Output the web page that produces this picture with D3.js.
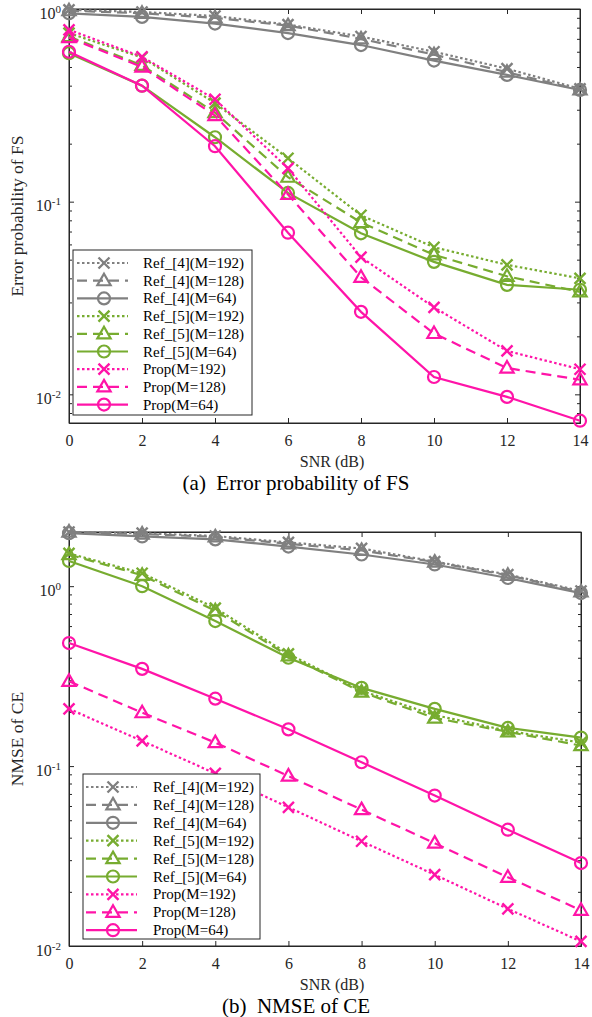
<!DOCTYPE html>
<html>
<head>
<meta charset="utf-8">
<script src="https://cdn.jsdelivr.net/npm/d3@7"></script>
<style>
  html, body { margin: 0; padding: 0; background: #fff; }
  svg { display: block; font-family: "Liberation Serif", "Times New Roman", serif; }
</style>
</head>
<body>
<svg id="chart" width="592" height="1017"></svg>
<script>
// ---------------- data ----------------
const snr = [0, 2, 4, 6, 8, 10, 12, 14];
const xTicks = [0, 2, 4, 6, 8, 10, 12, 14];
const legendLabels = ["Ref_[4](M=192)", "Ref_[4](M=128)", "Ref_[4](M=64)",
                      "Ref_[5](M=192)", "Ref_[5](M=128)", "Ref_[5](M=64)",
                      "Prop(M=192)", "Prop(M=128)", "Prop(M=64)"];

// (a) Error probability of FS
const fsRef4M192 = [0.99, 0.965, 0.92, 0.83, 0.72, 0.60, 0.49, 0.385];
const fsRef4M128 = [0.98, 0.95, 0.90, 0.82, 0.70, 0.58, 0.47, 0.38];
const fsRef4M64  = [0.95, 0.91, 0.84, 0.75, 0.65, 0.54, 0.455, 0.38];
const fsRef5M192 = [0.75, 0.56, 0.325, 0.168, 0.085, 0.058, 0.047, 0.040];
const fsRef5M128 = [0.72, 0.51, 0.29, 0.134, 0.078, 0.053, 0.041, 0.034];
const fsRef5M64  = [0.59, 0.40, 0.216, 0.111, 0.0685, 0.0487, 0.037, 0.0349];
const fsPropM192 = [0.78, 0.565, 0.34, 0.149, 0.0515, 0.0283, 0.0168, 0.0135];
const fsPropM128 = [0.71, 0.50, 0.28, 0.109, 0.0405, 0.0207, 0.0137, 0.0119];
const fsPropM64  = [0.60, 0.40, 0.194, 0.069, 0.0268, 0.0123, 0.0097, 0.0073];

// (b) NMSE of CE
const ceRef4M192 = [2.00, 1.97, 1.90, 1.75, 1.62, 1.37, 1.16, 0.94];
const ceRef4M128 = [2.00, 1.95, 1.88, 1.72, 1.58, 1.36, 1.15, 0.93];
const ceRef4M64  = [1.97, 1.89, 1.82, 1.66, 1.50, 1.32, 1.11, 0.915];
const ceRef5M192 = [1.52, 1.18, 0.755, 0.42, 0.262, 0.192, 0.157, 0.135];
const ceRef5M128 = [1.50, 1.15, 0.73, 0.41, 0.258, 0.185, 0.155, 0.130];
const ceRef5M64  = [1.38, 1.00, 0.64, 0.40, 0.272, 0.208, 0.163, 0.144];
const cePropM192 = [0.208, 0.138, 0.091, 0.059, 0.0382, 0.0249, 0.0161, 0.0106];
const cePropM128 = [0.296, 0.198, 0.135, 0.088, 0.0573, 0.0373, 0.0241, 0.0158];
const cePropM64  = [0.483, 0.347, 0.237, 0.160, 0.105, 0.0686, 0.0443, 0.0289];

// ---------------- styles ----------------
const GRAY = "#808080", GREEN = "#77AC30", MAG = "#FF14A8", AX = "#262626";
const DOT = "2.5,2.5", DASH = "10,6";
const styles = [
  {color: GRAY, dash: DOT, marker: "x"},
  {color: GRAY, dash: DASH, marker: "tri"},
  {color: GRAY, dash: null, marker: "circ"},
  {color: GREEN, dash: DOT, marker: "x"},
  {color: GREEN, dash: DASH, marker: "tri"},
  {color: GREEN, dash: null, marker: "circ"},
  {color: MAG, dash: DOT, marker: "x"},
  {color: MAG, dash: DASH, marker: "tri"},
  {color: MAG, dash: null, marker: "circ"}
];

const svg = d3.select("#chart");
svg.append("rect").attr("width", 592).attr("height", 1017).attr("fill", "#fff");

function drawMarker(g, type, cx, cy, color) {
  if (type === "circ") {
    g.append("circle").attr("cx", cx).attr("cy", cy).attr("r", 6)
      .attr("fill", "none").attr("stroke", color).attr("stroke-width", 2.2);
  } else if (type === "tri") {
    const s = 7;
    g.append("path")
      .attr("d", `M${cx},${cy - s} L${cx + s * 0.95},${cy + s * 0.65} L${cx - s * 0.95},${cy + s * 0.65} Z`)
      .attr("fill", "none").attr("stroke", color).attr("stroke-width", 2.2).attr("stroke-linejoin", "miter");
  } else {
    const s = 5.5;
    g.append("path")
      .attr("d", `M${cx - s},${cy - s} L${cx + s},${cy + s} M${cx - s},${cy + s} L${cx + s},${cy - s}`)
      .attr("fill", "none").attr("stroke", color).attr("stroke-width", 2.4);
  }
}

function supLabel(sel, v) {
  const e = Math.round(Math.log10(v));
  sel.text(null);
  sel.attr("y", 4);
  sel.append("tspan").text("10");
  sel.append("tspan").attr("dy", -6).attr("font-size", 11).text(String(e));
}

function panel(cfg) {
  const {x0, x1, y0, y1, yDomain, series, yLabel, caption, legend} = cfg;
  const x = d3.scaleLinear().domain([0, 14]).range([x0, x1]);
  const y = d3.scaleLog().domain(yDomain).range([y1, y0]);
  const g = svg.append("g");

  // box
  g.append("rect").attr("x", x0).attr("y", y0).attr("width", x1 - x0).attr("height", y1 - y0)
    .attr("fill", "none").attr("stroke", AX).attr("stroke-width", 1);

  // x axes (bottom with labels, top ticks only)
  g.append("g").attr("transform", `translate(0,${y1})`)
    .call(d3.axisBottom(x).tickValues(xTicks).tickSizeInner(-5).tickSizeOuter(0).tickPadding(12).tickFormat(d3.format("d")));
  g.append("g").attr("transform", `translate(0,${y0})`)
    .call(d3.axisTop(x).tickValues(xTicks).tickSizeInner(-5).tickSizeOuter(0).tickFormat(""));

  // y axes major + minor
  const lo = Math.floor(Math.log10(yDomain[0])), hi = Math.ceil(Math.log10(yDomain[1]));
  const major = [], minor = [];
  for (let e = lo; e <= hi; e++) {
    const b = Math.pow(10, e);
    if (b >= yDomain[0] * 0.999 && b <= yDomain[1] * 1.001) major.push(b);
    for (let m = 2; m <= 9; m++) {
      const v = m * b;
      if (v >= yDomain[0] && v <= yDomain[1] * 1.001) minor.push(v);
    }
  }
  const yl = g.append("g").attr("transform", `translate(${x0},0)`)
    .call(d3.axisLeft(y).tickValues(major).tickSizeInner(-5).tickSizeOuter(0).tickPadding(8).tickFormat(""));
  g.append("g").attr("transform", `translate(${x0},0)`)
    .call(d3.axisLeft(y).tickValues(minor).tickSizeInner(-3).tickSizeOuter(0).tickFormat(""));
  g.append("g").attr("transform", `translate(${x1},0)`)
    .call(d3.axisRight(y).tickValues(major).tickSizeInner(-5).tickSizeOuter(0).tickFormat(""));
  g.append("g").attr("transform", `translate(${x1},0)`)
    .call(d3.axisRight(y).tickValues(minor).tickSizeInner(-3).tickSizeOuter(0).tickFormat(""));

  g.selectAll(".domain").attr("stroke", AX);
  g.selectAll(".tick line").attr("stroke", AX);
  g.selectAll(".tick text").attr("font-family", "Liberation Serif").attr("font-size", 16).attr("fill", AX);
  yl.selectAll(".tick text").each(function (d) { supLabel(d3.select(this), d); });

  // series
  const line = d3.line().x(d => x(d[0])).y(d => y(d[1]));
  series.forEach((vals, i) => {
    const st = styles[i];
    const pts = snr.map((s, k) => [s, vals[k]]);
    const sg = g.append("g");
    sg.append("path").attr("d", line(pts)).attr("fill", "none").attr("stroke", st.color)
      .attr("stroke-width", 2.2).attr("stroke-dasharray", st.dash);
    pts.forEach(p => drawMarker(sg, st.marker, x(p[0]), y(p[1]), st.color));
  });

  // labels
  g.append("text").attr("x", 332).attr("y", y1 + 44).attr("text-anchor", "middle")
    .attr("font-size", 16).attr("fill", AX).text("SNR (dB)");
  g.append("text").attr("transform", `translate(23,${(y0 + y1) / 2}) rotate(-90)`)
    .attr("text-anchor", "middle").attr("font-size", 17.5).attr("fill", AX).text(yLabel);
  g.append("text").attr("x", 296).attr("y", y1 + 67).attr("text-anchor", "middle")
    .attr("font-size", 21).attr("fill", "#000").attr("xml:space", "preserve")
    .style("white-space", "pre").text(caption);

  // legend
  const L = legend;
  const lg = g.append("g");
  lg.append("rect").attr("x", L.x).attr("y", L.y).attr("width", L.w).attr("height", L.h)
    .attr("fill", "#fff").attr("stroke", AX).attr("stroke-width", 1);
  legendLabels.forEach((lab, i) => {
    const st = styles[i];
    const ry = L.row0 + i * L.step;
    lg.append("line").attr("x1", L.lx0).attr("x2", L.lx1).attr("y1", ry).attr("y2", ry)
      .attr("stroke", st.color).attr("stroke-width", 2.2).attr("stroke-dasharray", st.dash);
    drawMarker(lg, st.marker, L.mx, ry, st.color);
    lg.append("text").attr("x", L.tx).attr("y", ry + 5).attr("font-size", 15).attr("fill", "#000").text(lab);
  });
}

panel({
  x0: 69, x1: 580, y0: 9, y1: 423, yDomain: [0.0071, 1],
  series: [fsRef4M192, fsRef4M128, fsRef4M64, fsRef5M192, fsRef5M128, fsRef5M64, fsPropM192, fsPropM128, fsPropM64],
  yLabel: "Error probability of FS",
  caption: "(a)  Error probability of FS",
  legend: {x: 73, y: 250, w: 179, h: 165, row0: 263, step: 17.7, lx0: 77, lx1: 128, mx: 104, tx: 143}
});

panel({
  x0: 69, x1: 581, y0: 532, y1: 946, yDomain: [0.01, 2],
  series: [ceRef4M192, ceRef4M128, ceRef4M64, ceRef5M192, ceRef5M128, ceRef5M64, cePropM192, cePropM128, cePropM64],
  yLabel: "NMSE of CE",
  caption: "(b)  NMSE of CE",
  legend: {x: 83, y: 774, w: 177, h: 165, row0: 787, step: 17.9, lx0: 86, lx1: 137, mx: 113, tx: 153}
});
</script>
</body>
</html>
